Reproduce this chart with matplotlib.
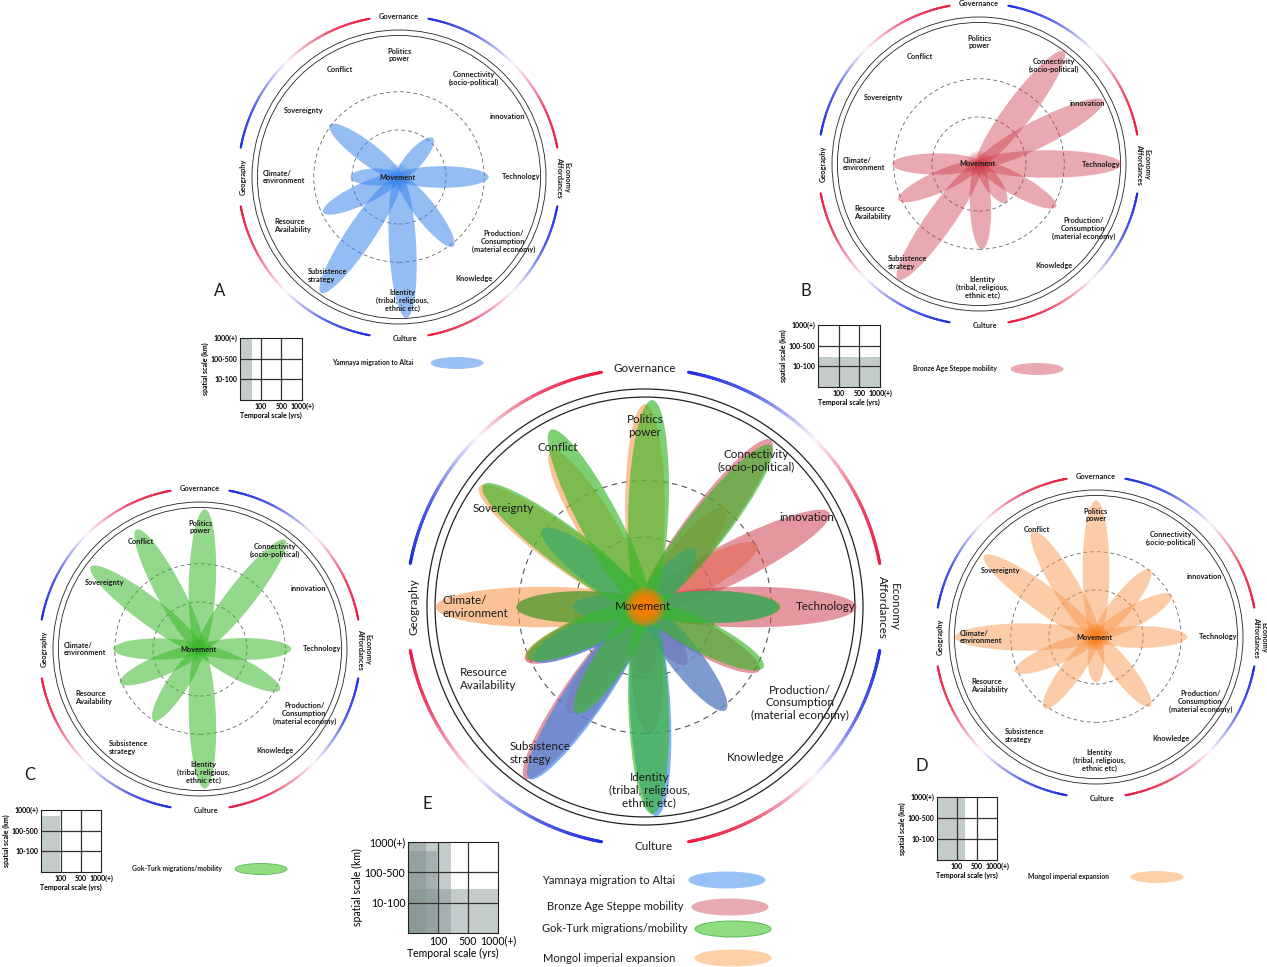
import numpy as np
import matplotlib
matplotlib.use("Agg")
import matplotlib.pyplot as plt
from matplotlib.patches import Ellipse, Circle, Rectangle
from matplotlib.collections import LineCollection
from matplotlib.colors import LinearSegmentedColormap

plt.rcParams['font.family'] = ['Lato', 'DejaVu Sans']

W, H = 1267, 967

# ---- data -------------------------------------------------------------
categories = ["Politics\npower", "Connectivity\n(socio-political)", "innovation",
              "Technology", "Production/\nConsumption\n(material economy)",
              "Knowledge", "Identity\n(tribal, religious,\nethnic etc)",
              "Subsistence\nstrategy", "Resource\nAvailability",
              "Climate/\nenvironment", "Sovereignty", "Conflict"]
domains = ["Governance", "Economy\nAffordances", "Culture", "Geography"]

series_names = ["Yamnaya migration to Altai", "Bronze Age Steppe mobility",
                "Gok-Turk migrations/mobility", "Mongol imperial expansion"]

# petal direction (deg, ccw from east) and reach (1 = outer ring)
yam_angle = [143, 49, 0, 180, -155, -124, -87, -52]
yam_reach = [0.59, 0.35, 0.61, 0.33, 0.57, 0.95, 0.96, 0.60]
bronze_angle = [53, 27, 0, 180, -156, -125, -88, -55, -29]
bronze_reach = [0.96, 0.95, 0.97, 0.59, 0.60, 0.96, 0.58, 0.32, 0.60]
gok_angle = [88, 118, 143, 52, 0, 180, -157, -123, -88, -27]
gok_reach = [0.95, 0.92, 0.93, 0.94, 0.62, 0.59, 0.59, 0.58, 0.95, 0.61]
mongol_angle = [90, 121, 144, 51, 29, 0, 180, -157, -126, -90, -52]
mongol_reach = [0.93, 0.84, 0.94, 0.59, 0.59, 0.62, 0.96, 0.60, 0.60, 0.31, 0.60]

# extent on the scale grid (grid units 0-3)
temporal_reach = [0.6, 3.0, 0.97, 1.42]
spatial_reach = [3.0, 1.45, 2.7, 3.0]
temporal_ticks = ["100", "500", "1000(+)"]
spatial_ticks = ["10-100", "100-500", "1000(+)"]

# ---- styling / layout -------------------------------------------------
petal_colors = ['#3d87ec', '#d04050', '#3cb82c', '#f89a50']
petal_alpha = [0.55, 0.45, 0.55, 0.5]
legend_colors = ['#99c0f5', '#e8a9b0', '#90dc80', '#fdd0a8']
legend_edges = ['#99c0f5', '#e8a9b0', '#5cb85a', '#fdd0a8']
arc_cmap = LinearSegmentedColormap.from_list(
    'rwb', [(0.0, '#ec1b3f'), (0.22, '#ef4a6c'), (0.5, '#fbf6fa'),
            (0.78, '#5560ea'), (1.0, '#1e2ee0')])

label_pos = [(0.0, 0.83, 'center'), (0.51, 0.67, 'center'), (0.74, 0.41, 'center'),
             (0.83, 0.0, 'center'), (0.71, -0.44, 'center'), (0.51, -0.69, 'center'),
             (0.02, -0.84, 'center'), (-0.62, -0.67, 'left'), (-0.85, -0.33, 'left'),
             (-0.93, 0.0, 'left'), (-0.65, 0.45, 'center'), (-0.40, 0.73, 'center')]

petals = [(yam_angle, yam_reach), (bronze_angle, bronze_reach),
          (gok_angle, gok_reach), (mongol_angle, mongol_reach)]

fig = plt.figure(figsize=(W / 100, H / 100), dpi=100)

overlay = fig.add_axes([0, 0, 1, 1])
overlay.set_xlim(0, W)
overlay.set_ylim(H, 0)
overlay.axis('off')


def px_axes(x0, y0, x1, y1):
    return fig.add_axes([x0 / W, (H - y1) / H, (x1 - x0) / W, (y1 - y0) / H])


def gradient_arc(ax, a0, a1, r, lw):
    t = np.radians(np.linspace(a0, a1, 200))
    pts = np.column_stack([r * np.cos(t), r * np.sin(t)])
    segs = np.stack([pts[:-1], pts[1:]], axis=1)
    cols = arc_cmap(np.linspace(0, 1, len(segs)))
    ax.add_collection(LineCollection(segs, colors=cols, linewidths=lw, capstyle='round'))


def draw_wheel(cx, cy, r_px, which, fs, weight, alpha_scale=1.0,
               glow_color=None, glow_a=0.15):
    lim = 1.22
    ax = px_axes(cx - lim * r_px, cy - lim * r_px, cx + lim * r_px, cy + lim * r_px)
    ax.set_xlim(-lim, lim)
    ax.set_ylim(-lim, lim)
    ax.axis('off')
    big = r_px > 180
    lw = 0.9 if big else 0.6

    ax.add_patch(Circle((0, 0), 1.0, fill=False, ec='#222222', lw=lw))
    ax.add_patch(Circle((0, 0), 0.963, fill=False, ec='#222222', lw=lw))
    for rr in (0.58, 0.32):
        ax.add_patch(Circle((0, 0), rr, fill=False, ec='#555555', lw=lw * 0.9,
                            ls=(0, (5, 4))))

    for k in which:
        ang, reach = petals[k]
        a = min(1.0, petal_alpha[k] * alpha_scale)
        for th, L in zip(ang, reach):
            start = -0.02
            c = (start + L) / 2
            t = np.radians(th)
            ax.add_patch(Ellipse((c * np.cos(t), c * np.sin(t)), L - start,
                                 0.08 + 0.11 * L, angle=th, fc=petal_colors[k],
                                 ec='none', alpha=a))
    # soft glow at the hub
    gc = petal_colors[which[-1]] if glow_color is None else glow_color
    for rr in np.linspace(0.09, 0.015, 7):
        ax.add_patch(Circle((0, 0), rr, fc=gc, ec='none', alpha=glow_a))

    # outer gradient arcs
    for c in (45, 135, 225, 315):
        gradient_arc(ax, c - 34.5, c + 34.5, 1.095, 2.2 if big else 1.5)

    tc = '#1a1a1a'
    kw = dict(fontsize=fs, color=tc, fontweight=weight)
    for name, (x, y, ha) in zip(categories, label_pos):
        ax.text(x, y, name, ha=ha, va='center', linespacing=1.15,
                multialignment=ha, **kw)
    ax.text(-0.01, 0.0, "Movement", ha='center', va='center', **kw)

    ax.text(0, 1.095, domains[0], ha='center', va='center', **kw)
    ax.text(1.115, 0, domains[1], ha='center', va='center', rotation=-90,
            linespacing=1.1, **kw)
    ax.text(0.04, -1.1, domains[2], ha='center', va='center', **kw)
    ax.text(-1.06, 0, domains[3], ha='center', va='center', rotation=90, **kw)
    return ax


def draw_scale(x0, y0, x1, y1, which, fs, weight):
    ax = px_axes(x0, y0, x1, y1)
    ax.set_xlim(0, 3)
    ax.set_ylim(0, 3)
    ax.set_facecolor('white')
    if len(which) == 1:
        k = which[0]
        ax.add_patch(Rectangle((0, 0), temporal_reach[k], spatial_reach[k],
                               fc='#c4cccb', ec='none'))
    else:
        for k in which:
            ax.add_patch(Rectangle((0, 0), temporal_reach[k], spatial_reach[k],
                                   fc='#7f918e', ec='none', alpha=0.45))
    for v in (1, 2):
        ax.axvline(v, color='#333333', lw=0.9)
        ax.axhline(v, color='#333333', lw=0.9)
    for s in ax.spines.values():
        s.set_linewidth(0.8)
        s.set_color('#222222')
    ax.set_xticks([1, 2, 3])
    ax.set_xticklabels(temporal_ticks, fontsize=fs, fontweight=weight)
    ax.set_yticks([1, 2, 3])
    ax.set_yticklabels(spatial_ticks, fontsize=fs, fontweight=weight)
    ax.tick_params(length=0, pad=2)
    ax.set_xlabel("Temporal scale (yrs)", fontsize=fs, labelpad=1, fontweight=weight)
    ax.set_ylabel("spatial scale (km)", fontsize=fs, labelpad=1, fontweight=weight)
    return ax


# ---- panels -----------------------------------------------------------
fs_small = 5.3
fs_big = 8.4

draw_wheel(399, 177, 147, [0], fs_small, 'bold')
draw_wheel(979, 164, 147, [1], fs_small, 'bold')
draw_wheel(200, 649, 147, [2], fs_small, 'bold')
draw_wheel(1096, 637, 147, [3], fs_small, 'bold', glow_color='#ff7a10', glow_a=0.2)
draw_wheel(645, 607, 218, [3, 1, 0, 2], fs_big, 'normal', alpha_scale=1.2,
           glow_color='#ff7a00', glow_a=0.4)

draw_scale(240, 338, 302, 400, [0], 5.0, 'bold')
draw_scale(818, 325, 880, 387, [1], 5.0, 'bold')
draw_scale(41, 810, 101, 872, [2], 5.0, 'bold')
draw_scale(937, 797, 997, 860, [3], 5.0, 'bold')
draw_scale(408, 842, 498, 933, [0, 1, 2, 3], 7.6, 'normal')

# ---- legends and letters ---------------------------------------------
small_leg = [(332, 363, 457), (913, 369, 1037), (132, 869, 261), (1028, 877, 1157)]
for k, (tx, ty, ex) in enumerate(small_leg):
    overlay.text(tx, ty, series_names[k], ha='left', va='center', fontsize=4.9,
                 color='#1a1a1a', fontweight='bold')
    overlay.add_patch(Ellipse((ex, ty), 52, 11, fc=legend_colors[k],
                              ec=legend_edges[k], lw=0.6))

big_leg = [(542, 880, 727), (547, 907, 730), (542, 929, 733), (543, 958, 733)]
for k, (tx, ty, ex) in enumerate(big_leg):
    overlay.text(tx, ty, series_names[k], ha='left', va='center', fontsize=8,
                 color='#1a1a1a')
    overlay.add_patch(Ellipse((ex, ty), 76, 16, fc=legend_colors[k],
                              ec=legend_edges[k], lw=0.7))

for letter, (lx, ly) in zip("ABCDE", [(220, 291), (806, 291), (30, 775), (922, 766),
                                      (427, 804)]):
    overlay.text(lx, ly, letter, ha='center', va='center', fontsize=12, color='#1a1a1a')

fig.savefig("out.png", dpi=100)
